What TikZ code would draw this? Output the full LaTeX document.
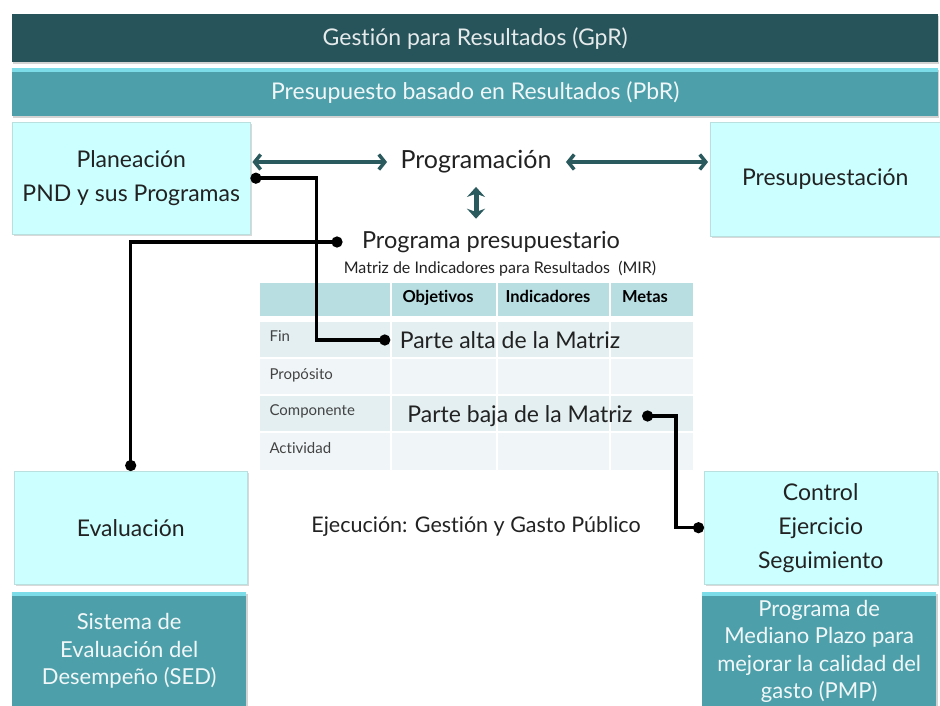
\documentclass[tikz,border=0pt]{standalone}
\usepackage{fontspec}
\setmainfont{Lato}[Ligatures=NoCommon]
\usepackage{xcolor}
\usetikzlibrary{positioning, arrows.meta, shadows}

\definecolor{gprteal}{HTML}{27535A}
\definecolor{pbrteal}{HTML}{4DA0AA}
\definecolor{pbrlight}{HTML}{7CDDE8}
\definecolor{boxcyan}{HTML}{CCFFFF}
\definecolor{headcell}{HTML}{B8DEE2}
\definecolor{rowdark}{HTML}{E3EFF1}
\definecolor{rowlight}{HTML}{F0F6F8}
\definecolor{arrowteal}{HTML}{2A5A5E}
\definecolor{inktext}{HTML}{222222}

\begin{document}
\begin{tikzpicture}[
    x=1pt, y=-1pt,
    font=\fontsize{23}{27}\selectfont,
    text=inktext,
    bar/.style={anchor=north west, minimum width=926pt, minimum height=48pt, inner sep=0pt,
        drop shadow={shadow xshift=1pt, shadow yshift=-2pt, opacity=0.35}},
    lightbox/.style={anchor=north west, fill=boxcyan, draw=boxcyan!75!gray, thin, align=center,
        font=\fontsize{23}{34}\selectfont,
        drop shadow={shadow xshift=1.5pt, shadow yshift=-2pt, opacity=0.3}},
    darkbox/.style={anchor=north west, fill=pbrteal, text=white!92!pbrteal, align=center,
        font=\fontsize{22}{27.5}\selectfont,
        path picture={\fill[pbrlight] (path picture bounding box.north west) rectangle ([yshift=-4pt]path picture bounding box.north east);},
        drop shadow={shadow xshift=1.5pt, shadow yshift=-2pt, opacity=0.35}},
    dbl/.style={arrowteal, line width=3.5pt, {Straight Barb[length=6pt, width=15pt]}-{Straight Barb[length=6pt, width=15pt]}},
    vdbl/.style={arrowteal, line width=5pt, {Stealth[length=10pt, width=18pt]}-{Stealth[length=10pt, width=18pt]}},
    link/.style={black, line width=3.5pt, {Circle[length=11pt]}-{Circle[length=11pt]}},
    rowlabel/.style={anchor=west, font=\fontsize{15}{18}\selectfont, text=inktext!85, text height=1.6ex, text depth=.3ex},
    headlabel/.style={font=\fontsize{16.5}{19}\selectfont\bfseries, text=black, text height=1.6ex, text depth=.3ex}
]

\useasboundingbox (0,0) rectangle (940,705);

% Top bars
\node[bar, fill=gprteal, text=white!88!gprteal] (gpr) at (12,14) {Gestión para Resultados (GpR)};
\node[bar, fill=pbrteal, text=white!92!pbrteal,
    path picture={\fill[pbrlight] (path picture bounding box.north west) rectangle ([yshift=-4pt]path picture bounding box.north east);}]
    (pbr) at (12,68) {Presupuesto basado en Resultados (PbR)};

% Planning and budgeting boxes
\node[lightbox, minimum width=238pt, minimum height=112pt] (plan) at (12,122) {Planeación\\PND y sus Programas};
\node[lightbox, minimum width=230pt, minimum height=114pt] (presu) at (710,122) {Presupuestación};

% Programming
\node[font=\fontsize{25}{29}\selectfont] (prog) at (476,162) {Programación};
\node[font=\fontsize{23.5}{27}\selectfont] (ppres) at (491,242) {Programa presupuestario};
\node[font=\fontsize{16}{19}\selectfont] (mir) at (500,269) {Matriz de Indicadores para Resultados\ \ (MIR)};

% Arrows
\draw[dbl, shorten <=2pt, shorten >=10pt] (plan.east |- prog.west) -- (prog.west);
\draw[dbl, shorten <=11pt, shorten >=2pt] (prog.east) -- (presu.west |- prog.east);
\draw[vdbl, shorten <=10pt, shorten >=9pt] (prog.south) -- (prog.south |- ppres.north);

% MIR table
\fill[headcell] (260,283) rectangle (693,316);
\foreach \ya/\yb/\c in {322/358/rowdark, 358/395/rowlight, 395/432/rowdark, 432/470/rowlight}
    \fill[\c] (260,\ya) rectangle (693,\yb);
\foreach \y in {358,395,432}
    \draw[white, line width=2pt] (260,\y) -- (693,\y);
\foreach \x in {391,497,610}
    \draw[white, line width=2pt] (\x,283) -- (\x,470);

\node[headlabel] (objetivos) at (438,299) {Objetivos};
\node[headlabel] (indicadores) at (548,299) {Indicadores};
\node[headlabel] (metas) at (645,299) {Metas};

\node[rowlabel] (fin) at (266,338) {Fin};
\node[rowlabel] (proposito) at (266,376) {Propósito};
\node[rowlabel] (componente) at (266,412) {Componente};
\node[rowlabel] (actividad) at (266,450) {Actividad};

\node[font=\fontsize{23}{27}\selectfont] (alta) at (510,340) {Parte alta de la Matriz};
\node[font=\fontsize{23}{27}\selectfont] (baja) at (520,416) {Parte baja de la Matriz};

% Execution
\node[font=\fontsize{21.5}{25}\selectfont] (ejec) at (476,527) {Ejecución: Gestión y Gasto Público};

% Lower boxes
\node[lightbox, minimum width=233pt, minimum height=113pt] (eval) at (14,471) {Evaluación};
\node[darkbox, minimum width=234pt, minimum height=118pt] (sed) at (12,592) {Sistema de\\Evaluación del\\Desempeño (SED)};
\node[lightbox, minimum width=233pt, minimum height=113pt] (ctrl) at (704,471) {Control\\Ejercicio\\Seguimiento};
\node[darkbox, minimum width=234pt, minimum height=118pt] (pmp) at (702,592) {Programa de\\Mediano Plazo para\\mejorar la calidad del\\gasto (PMP)};

% Connectors
\draw[link] (plan.east) -- ++(66,0) |- ([xshift=-6pt]alta.west);
\draw[link] ([xshift=-16pt]ppres.west) -| (eval.north);
\draw[link] ([xshift=6pt]baja.east) -- ++(34,0) |- (ctrl.west);

\end{tikzpicture}
\end{document}
